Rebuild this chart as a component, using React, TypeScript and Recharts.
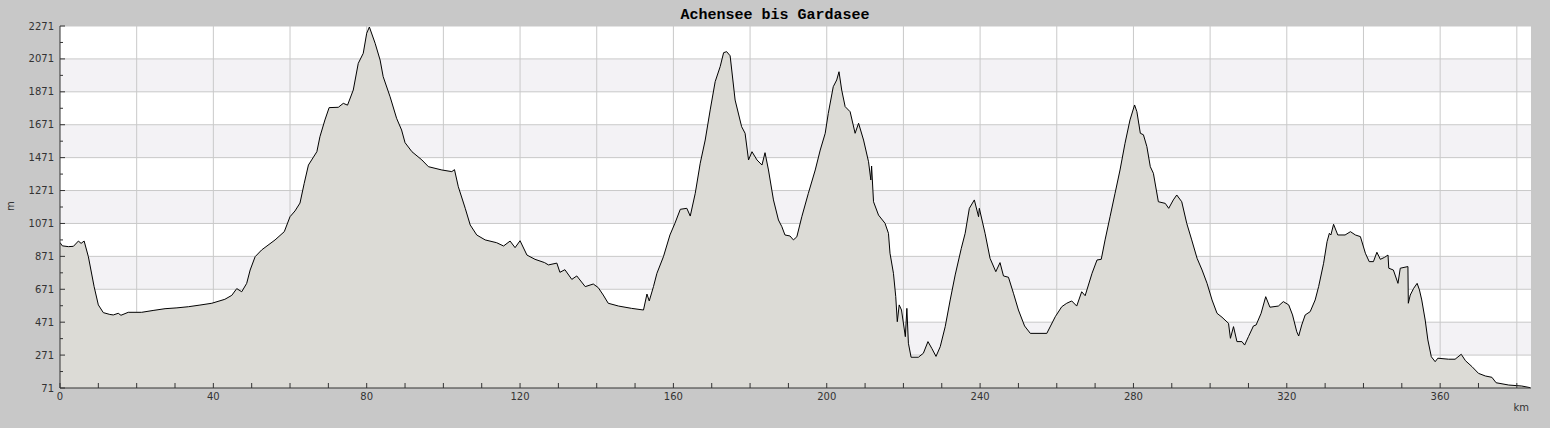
import React from 'react';
import { AreaChart, Area, XAxis, YAxis, CartesianGrid } from 'recharts';

// elevation profile
const kmValues = [
  0, 0.6, 2.2, 3.5, 4.8, 5.5, 6.3, 7.4, 8.9, 10.0, 11.3, 13.0, 13.9, 15.2, 15.9, 17.8, 21.3, 24.5, 27.4, 30.5,
  33.5, 36.5, 39.6, 43.0, 44.8, 46.1, 47.4, 48.7, 49.6, 50.9, 52.6, 56.1, 58.5, 60.0, 61.3, 62.6, 63.7, 64.8, 67.0, 67.8,
  69.1, 70.2, 72.6, 73.9, 75.0, 76.5, 77.8, 79.1, 80.0, 80.7, 82.2, 83.5, 84.3, 86.1, 87.8, 89.1, 90.0, 91.8, 94.4, 96.1,
  99.6, 102.2, 102.9, 103.9, 105.7, 107.0, 108.7, 110.9, 113.9, 115.7, 117.4, 118.7, 120.0, 121.8, 123.9, 126.4, 127.4, 129.6, 130.4, 131.7,
  133.5, 134.8, 137.0, 139.1, 140.4, 141.7, 143.0, 145.7, 149.1, 152.2, 153.1, 153.7, 154.8, 155.7, 157.4, 159.1, 160.4, 161.8, 163.5, 164.4,
  165.7, 167.0, 168.3, 169.6, 170.9, 172.2, 173.1, 173.9, 174.8, 176.1, 177.8, 178.7, 179.6, 180.5, 181.8, 183.1, 183.9, 184.8, 186.1, 187.4,
  188.3, 189.1, 190.4, 191.3, 192.2, 193.5, 195.2, 197.0, 198.3, 199.6, 200.4, 201.7, 202.6, 203.2, 203.9, 204.8, 206.1, 207.4, 208.3, 209.6,
  210.9, 211.5, 211.7, 212.2, 213.5, 215.2, 216.1, 216.5, 217.4, 218.0, 218.4, 218.9, 219.5, 220.5, 220.9, 221.3, 222.0, 223.9, 225.2, 226.4,
  227.4, 228.5, 229.6, 230.9, 232.2, 233.5, 235.1, 236.1, 237.2, 238.5, 239.6, 239.8, 241.3, 242.6, 244.1, 245.2, 246.1, 247.4, 248.7, 250.0,
  251.6, 253.1, 257.4, 259.6, 261.3, 262.6, 263.9, 265.2, 266.5, 267.4, 269.2, 270.5, 271.6, 272.6, 273.9, 275.2, 276.5, 277.8, 279.1, 280.3,
  280.9, 281.8, 282.6, 283.5, 284.4, 285.2, 286.5, 288.3, 289.2, 290.4, 291.3, 292.6, 293.9, 295.2, 296.6, 297.9, 299.2, 300.5, 301.8, 303.1,
  304.8, 305.3, 306.1, 307.0, 308.3, 309.0, 310.0, 311.3, 312.0, 313.3, 314.5, 315.6, 317.8, 319.1, 320.5, 321.5, 322.6, 323.1, 323.9, 324.8,
  326.1, 327.4, 328.3, 329.6, 330.5, 331.1, 331.5, 332.2, 333.3, 335.2, 336.6, 337.9, 339.2, 340.5, 341.5, 342.6, 343.5, 344.4, 345.5, 346.4,
  346.6, 347.8, 349.0, 349.6, 351.6, 351.7, 352.2, 353.1, 354.0, 354.6, 355.2, 356.1, 356.8, 357.7, 358.7, 359.4, 362.2, 363.9, 365.5, 366.6,
  368.3, 370.0, 371.8, 373.5, 374.6, 377.9, 381.3, 383.5,
];

const elevValues = [
  955, 935, 930, 932, 964, 950, 964, 869, 687, 576, 529, 518, 515, 525, 513, 531, 531, 543, 553, 558,
  565, 575, 586, 610, 634, 675, 656, 707, 788, 869, 910, 971, 1021, 1112, 1147, 1195, 1315, 1426, 1507, 1598,
  1700, 1775, 1777, 1801, 1790, 1882, 2044, 2105, 2227, 2265, 2166, 2064, 1963, 1841, 1710, 1639, 1562, 1507, 1457, 1416,
  1396, 1386, 1398, 1294, 1163, 1062, 1001, 971, 954, 934, 964, 924, 966, 879, 853, 833, 819, 830, 774, 790,
  731, 752, 687, 703, 681, 636, 586, 569, 555, 545, 642, 600, 687, 768, 869, 1001, 1072, 1157, 1163, 1116,
  1254, 1437, 1578, 1761, 1933, 2024, 2109, 2115, 2090, 1821, 1659, 1619, 1457, 1507, 1457, 1426, 1501, 1396, 1214, 1092,
  1051, 1001, 995, 971, 990, 1112, 1254, 1396, 1517, 1619, 1740, 1902, 1943, 1993, 1882, 1781, 1750, 1619, 1680, 1578,
  1446, 1335, 1420, 1203, 1122, 1072, 1011, 890, 768, 626, 474, 576, 545, 383, 555, 343, 258, 258, 282, 353,
  312, 263, 322, 444, 606, 758, 920, 1011, 1163, 1214, 1112, 1163, 1011, 859, 778, 833, 752, 744, 647, 545,
  448, 403, 403, 504, 565, 586, 600, 569, 656, 632, 768, 849, 853, 971, 1112, 1254, 1396, 1558, 1700, 1791,
  1750, 1619, 1610, 1538, 1416, 1376, 1203, 1193, 1163, 1214, 1244, 1203, 1072, 971, 859, 788, 707, 606, 525, 501,
  464, 373, 444, 353, 353, 332, 383, 448, 454, 525, 626, 562, 569, 596, 576, 515, 413, 387, 454, 515,
  535, 606, 687, 829, 960, 1011, 1001, 1066, 1001, 1001, 1021, 1001, 991, 890, 839, 839, 896, 853, 865, 879,
  799, 788, 707, 799, 809, 586, 636, 677, 707, 667, 606, 484, 363, 261, 231, 252, 246, 246, 276, 237,
  201, 160, 144, 136, 103, 89, 83, 73,
];

const xTicks = [0, 10, 20, 30, 40, 50, 60, 70, 80, 90, 100, 110, 120, 130, 140, 150, 160, 170, 180, 190,
  200, 210, 220, 230, 240, 250, 260, 270, 280, 290, 300, 310, 320, 330, 340, 350, 360, 370, 380];
const xLabels = [0, 40, 80, 120, 160, 200, 240, 280, 320, 360];
const xGrid = [20, 40, 60, 80, 100, 120, 140, 160, 180, 200, 220, 240, 260, 280, 300, 320, 340, 360, 380];

const yTicks = [71, 171, 271, 371, 471, 571, 671, 771, 871, 971, 1071, 1171, 1271, 1371, 1471, 1571, 1671,
  1771, 1871, 1971, 2071, 2171, 2271];
const yLabels = [71, 271, 471, 671, 871, 1071, 1271, 1471, 1671, 1871, 2071, 2271];

const profile = kmValues.map((km, i) => ({ km, m: elevValues[i] }));

const TICK_FONT = { fontFamily: 'DejaVu Sans', fontSize: 10, fill: '#333' };

const YTick = (props: any) => {
  const { x, y, payload } = props;
  const major = yLabels.includes(payload.value);
  return (
    <g>
      <line x1={x} x2={x + (major ? 5 : 3)} y1={y} y2={y} stroke="#333" />
      {major && (
        <text x={x - 6} y={y} dy={3.5} textAnchor="end" {...TICK_FONT}>
          {payload.value}
        </text>
      )}
    </g>
  );
};

const XTick = (props: any) => {
  const { x, y, payload } = props;
  const labelled = xLabels.includes(payload.value);
  return (
    <g>
      <line x1={x} x2={x} y1={y} y2={y - 5} stroke="#333" />
      {labelled && (
        <text x={x} y={y + 12} textAnchor="middle" {...TICK_FONT}>
          {payload.value}
        </text>
      )}
    </g>
  );
};

export default function App() {
  return (
    <div style={{ position: 'absolute', left: 0, top: 0, width: 1550, height: 428, background: '#c8c8c8' }}>
      <AreaChart width={1550} height={428} data={profile} margin={{ top: 26, right: 19, left: 0, bottom: 0 }}>
        <text x={775} y={19} textAnchor="middle" fontFamily="Liberation Mono" fontWeight="bold" fontSize={15} fill="#000">
          Achensee bis Gardasee
        </text>
        <CartesianGrid
          stroke="#c9c9c9"
          horizontalFill={['#ffffff', '#f3f2f5']}
          horizontalValues={yLabels}
          verticalValues={xGrid}
        />
        <XAxis
          dataKey="km"
          type="number"
          domain={[0, 383.7]}
          allowDataOverflow
          ticks={xTicks}
          interval={0}
          height={40}
          tickSize={0}
          tickMargin={0}
          tickLine={false}
          axisLine={{ stroke: '#333' }}
          tick={<XTick />}
        />
        <YAxis
          type="number"
          domain={[71, 2271]}
          allowDataOverflow
          ticks={yTicks}
          interval={0}
          width={60}
          tickSize={0}
          tickMargin={0}
          tickLine={false}
          axisLine={{ stroke: '#333' }}
          tick={<YTick />}
        />
        <Area
          type="linear"
          dataKey="m"
          stroke="#000"
          strokeWidth={1}
          fill="#dcdbd6"
          fillOpacity={1}
          dot={false}
          activeDot={false}
          isAnimationActive={false}
        />
        <text x={14} y={206} textAnchor="middle" transform="rotate(-90 14 206)" {...TICK_FONT}>
          m
        </text>
        <text x={1529} y={411} textAnchor="end" {...TICK_FONT}>
          km
        </text>
      </AreaChart>
    </div>
  );
}
